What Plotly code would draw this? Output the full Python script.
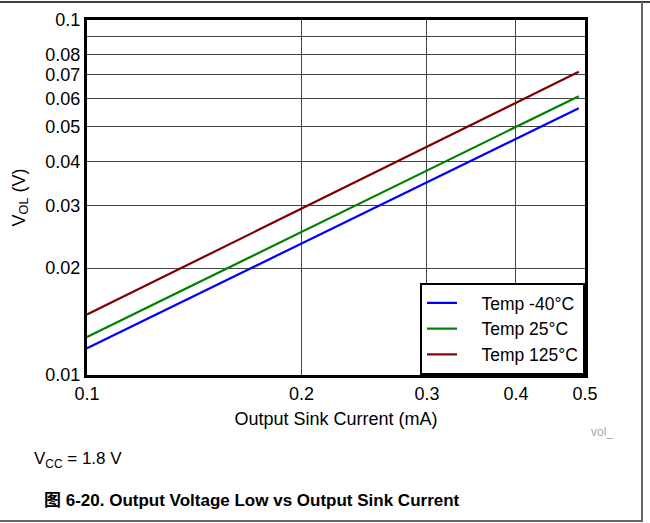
import math
import plotly.graph_objects as go

current_ma = [0.1, 0.2, 0.3, 0.4, 0.49]
vol_m40 = [0.0119, 0.0235, 0.0349, 0.0463, 0.0564]
vol_25 = [0.0128, 0.0253, 0.0377, 0.0500, 0.0610]
vol_125 = [0.0148, 0.0294, 0.0440, 0.0585, 0.0715]

series_names = ["Temp -40°C", "Temp 25°C", "Temp 125°C"]
series_colors = ["#0000FF", "#008000", "#800000"]

y_tickvals = [0.01, 0.02, 0.03, 0.04, 0.05, 0.06, 0.07, 0.08, 0.1]
y_ticktext = ["0.01", "0.02", "0.03", "0.04", "0.05", "0.06", "0.07", "0.08", "0.1"]
y_minor_grid = [0.09]
x_tickvals = [0.1, 0.2, 0.3, 0.4, 0.5]
x_ticktext = ["0.1", "0.2", "0.3", "0.4", "0.5"]

FONT = "Arial, Liberation Sans, Noto Sans CJK SC, sans-serif"

fig = go.Figure()
for name, color, ys in zip(series_names, series_colors, [vol_m40, vol_25, vol_125]):
    fig.add_trace(go.Scatter(x=current_ma, y=ys, mode="lines", name="\u00a0" * 4 + name,
                             line=dict(color=color, width=2.2)))

W, H = 650, 523
ml, mr, mt, mb = 87, 65, 20, 148
pw, ph = W - ml - mr, H - mt - mb

def px(x):
    return (x - ml) / pw

def py(y):
    return (H - mb - y) / ph

fig.update_layout(
    width=W, height=H,
    margin=dict(l=ml, r=mr, t=mt, b=mb, autoexpand=False),
    paper_bgcolor="white", plot_bgcolor="white",
    font=dict(family=FONT, size=18, color="black"),
    showlegend=True,
    legend=dict(x=1, y=0, xanchor="right", yanchor="bottom",
                bordercolor="black", borderwidth=2, bgcolor="white",
                font=dict(size=17.5), tracegroupgap=0),
    xaxis=dict(type="log", range=[math.log10(x_tickvals[0]), math.log10(x_tickvals[-1])],
               tickvals=x_tickvals, ticktext=x_ticktext, automargin=False,
               showgrid=True, gridcolor="#444", gridwidth=1,
               showline=True, linecolor="black", linewidth=3, mirror=True,
               ticks="", zeroline=False,
               title=dict(text="Output Sink Current (mA)", standoff=10, font=dict(size=18))),
    yaxis=dict(type="log", range=[math.log10(y_tickvals[0]), math.log10(y_tickvals[-1])],
               tickvals=y_tickvals, ticktext=y_ticktext, automargin=False,
               showgrid=True, gridcolor="#444", gridwidth=1,
               minor=dict(tickvals=y_minor_grid, showgrid=True, gridcolor="#444", gridwidth=1, ticks=""),
               showline=True, linecolor="black", linewidth=3, mirror=True,
               ticks="", zeroline=False,
               title=dict(text="V<sub>OL</sub> (V)", standoff=16, font=dict(size=18))),
)

fig.add_annotation(text="vol_", xref="paper", yref="paper", x=px(589), y=py(432),
                   xanchor="left", yanchor="middle", showarrow=False,
                   font=dict(size=12, color="#aaaaaa"))
fig.add_annotation(text="V<sub>CC</sub> = 1.8 V", xref="paper", yref="paper", x=px(32), y=py(460),
                   xanchor="left", yanchor="middle", showarrow=False,
                   font=dict(size=17))
fig.add_annotation(text="<b>图 6-20. Output Voltage Low vs Output Sink Current</b>", xref="paper", yref="paper",
                   x=px(42), y=py(500), xanchor="left", yanchor="middle", showarrow=False,
                   font=dict(size=17))

# outer frame lines
fig.add_shape(type="line", xref="paper", yref="paper", x0=px(0), x1=px(650), y0=py(2), y1=py(2),
              line=dict(color="black", width=1.5))
fig.add_shape(type="line", xref="paper", yref="paper", x0=px(642), x1=px(642), y0=py(2), y1=py(521),
              line=dict(color="#666", width=2))
fig.add_shape(type="line", xref="paper", yref="paper", x0=px(0), x1=px(643), y0=py(521), y1=py(521),
              line=dict(color="#666", width=2))

fig.write_html("out.html", config={"displayModeBar": False},
               post_script="document.body.style.margin='0';document.body.style.padding='0';")
